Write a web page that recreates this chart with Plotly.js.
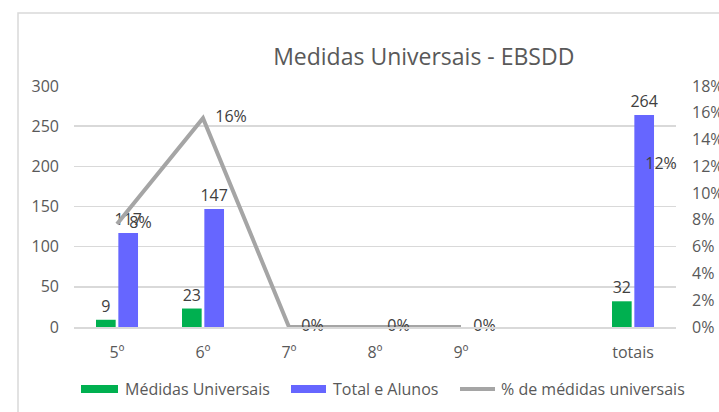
<!DOCTYPE html>
<html>
<head>
<meta charset="utf-8">
<script src="https://cdn.plot.ly/plotly-3.0.1.min.js"></script>
<style>html,body{margin:0;padding:0;background:#fff;}#chart{width:719px;height:412px;}</style>
</head>
<body>
<div id="chart"></div>
<script>
const categories = ['5º', '6º', '7º', '8º', '9º', ' ', 'totais'];
const medidasUniversais = [9, 23, null, null, null, null, 32];
const totalAlunos = [117, 147, null, null, null, null, 264];
const pctMedidas = [0.077, 0.156, 0, 0, 0, null, 0.121];
const pctLabels = ['8%', '16%', '0%', '0%', '0%', '', '12%'];
const leftTicks = [0, 50, 100, 150, 200, 250, 300];
const rightTicks = [0, 0.02, 0.04, 0.06, 0.08, 0.10, 0.12, 0.14, 0.16, 0.18];
const rightTickLabels = ['0%', '2%', '4%', '6%', '8%', '10%', '12%', '14%', '16%', '18%'];
const seriesNames = ['Médidas Universais', 'Total e Alunos', '% de médidas universais'];
const seriesColors = ['#00B050', '#6666FF', '#A5A5A5'];

const FONT = 'Open Sans, Noto Sans, sans-serif';
const GRAY = '#595959';
const FS = 16;

const traces = [
  {
    type: 'bar', name: seriesNames[0], x: categories, y: medidasUniversais,
    marker: {color: seriesColors[0]},
    text: medidasUniversais.map(v => v == null ? '' : String(v)),
    textposition: 'outside', cliponaxis: false, constraintext: 'none',
    textfont: {family: FONT, size: FS, color: '#404040'},
    hoverinfo: 'none', showlegend: false
  },
  {
    type: 'bar', name: seriesNames[1], x: categories, y: totalAlunos,
    marker: {color: seriesColors[1]},
    text: totalAlunos.map(v => v == null ? '' : String(v)),
    textposition: 'outside', cliponaxis: false, constraintext: 'none',
    textfont: {family: FONT, size: FS, color: '#404040'},
    hoverinfo: 'none', showlegend: false
  },
  {
    type: 'scatter', mode: 'lines+markers+text', name: seriesNames[2],
    x: categories, y: pctMedidas, yaxis: 'y2',
    line: {color: seriesColors[2], width: 4},
    marker: {size: 18, color: 'rgba(0,0,0,0)'},
    text: pctLabels, textposition: 'middle right', cliponaxis: false,
    textfont: {family: FONT, size: FS, color: '#404040'},
    connectgaps: false,
    hoverinfo: 'none', showlegend: false
  }
];

// Custom legend (Excel-style wide swatches), placed in paper coordinates
const PL = 74, PW = 602, PB = 327, PH = 241;
const px = v => (v - PL) / PW;
const py = v => (PB - v) / PH;
const legendSwatches = [[81, 118], [291, 326], [460, 495]];
const legendTextX = [123, 331, 499];
const LEG_Y = 389;

const shapes = [{
  type: 'rect', xref: 'paper', yref: 'paper',
  x0: px(18), x1: px(900), y0: py(600), y1: py(13),
  line: {color: '#D9D9D9', width: 1.5}, fillcolor: 'rgba(0,0,0,0)', layer: 'below'
}];
const annotations = [];
legendSwatches.forEach((s, i) => {
  if (i < 2) {
    shapes.push({type: 'rect', xref: 'paper', yref: 'paper',
      x0: px(s[0]), x1: px(s[1]), y0: py(LEG_Y + 4), y1: py(LEG_Y - 4),
      line: {width: 0}, fillcolor: seriesColors[i]});
  } else {
    shapes.push({type: 'line', xref: 'paper', yref: 'paper',
      x0: px(s[0]), x1: px(s[1]), y0: py(LEG_Y), y1: py(LEG_Y),
      line: {width: 4, color: seriesColors[i]}});
  }
  annotations.push({xref: 'paper', yref: 'paper', x: px(legendTextX[i]), y: py(LEG_Y),
    xanchor: 'left', yanchor: 'middle', showarrow: false, text: seriesNames[i],
    font: {family: FONT, size: FS, color: GRAY}});
});

const layout = {
  width: 719, height: 412,
  margin: {l: 74, r: 43, t: 86, b: 85},
  paper_bgcolor: '#ffffff', plot_bgcolor: '#ffffff',
  font: {family: FONT, size: FS, color: GRAY},
  title: {
    text: 'Medidas Universais - EBSDD',
    font: {family: FONT, size: 23, color: GRAY},
    x: 0.581, xanchor: 'center', xref: 'paper',
    y: 0.861, yanchor: 'middle', yref: 'container'
  },
  barmode: 'group', bargap: 0.48, bargroupgap: 0.12,
  showlegend: false,
  xaxis: {
    type: 'category', categoryorder: 'array', categoryarray: categories,
    showgrid: false, zeroline: false, showline: true, linecolor: '#D9D9D9', linewidth: 1.5,
    ticks: '', tickfont: {family: FONT, size: FS, color: GRAY},
    ticklabelstandoff: 10
  },
  yaxis: {
    range: [0, 300], tickvals: leftTicks, ticktext: leftTicks.map(String),
    showgrid: true, gridcolor: '#D9D9D9', gridwidth: 1.5, zeroline: false, showline: false,
    ticks: '', tickfont: {family: FONT, size: FS, color: GRAY},
    ticklabelstandoff: 14
  },
  yaxis2: {
    range: [0, 0.18], overlaying: 'y', side: 'right',
    tickvals: rightTicks, ticktext: rightTickLabels,
    showgrid: false, zeroline: false, showline: false,
    ticks: '', tickfont: {family: FONT, size: FS, color: GRAY},
    ticklabelstandoff: 15
  },
  shapes: shapes,
  annotations: annotations
};

Plotly.newPlot('chart', traces, layout, {displayModeBar: false, staticPlot: true});
</script>
</body>
</html>
